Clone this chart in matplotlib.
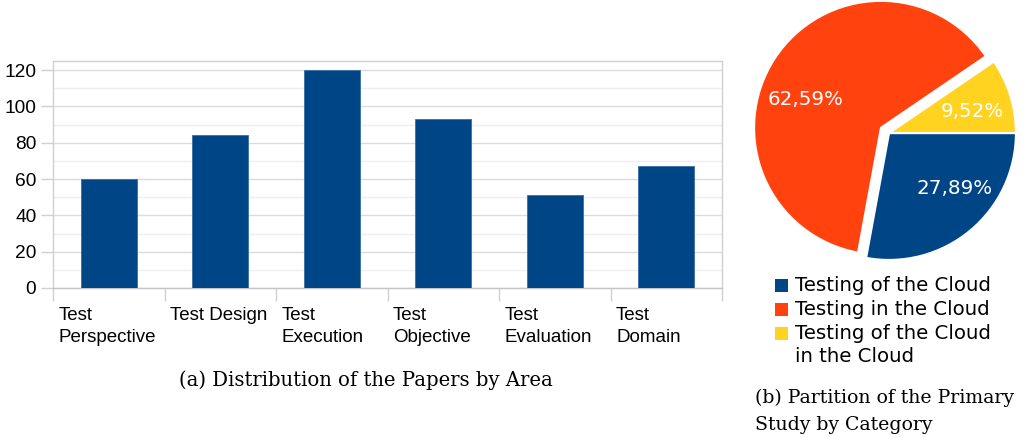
import matplotlib
matplotlib.use("Agg")
import matplotlib.pyplot as plt
from matplotlib.patches import Rectangle

# bar chart data
areas = ["Test\nPerspective", "Test Design", "Test\nExecution",
         "Test\nObjective", "Test\nEvaluation", "Test\nDomain"]
papers = [60, 84, 120, 93, 51, 67]

# pie chart data
categories = ["Testing of the Cloud", "Testing in the Cloud",
              "Testing of the Cloud\nin the Cloud"]
shares = [27.89, 62.59, 9.52]
share_labels = ["27,89%", "62,59%", "9,52%"]
pie_colors = ["#004586", "#ff420e", "#ffd320"]

W, H = 1028, 438
fig = plt.figure(figsize=(W / 100, H / 100), dpi=100)

def px(x0, y0, x1, y1):
    # pixel box (top-left origin) -> figure fraction rect
    return [x0 / W, 1 - y1 / H, (x1 - x0) / W, (y1 - y0) / H]

# ---- (a) bar chart ----
ax = fig.add_axes(px(53, 61, 722, 288))
x = list(range(len(areas)))
ax.bar(x, papers, width=0.5, color="#004586", edgecolor="#3a6ea5",
       linewidth=0.6, zorder=3)
ax.set_xlim(-0.5, len(areas) - 0.5)
ax.set_ylim(0, 125)
ax.set_yticks([0, 20, 40, 60, 80, 100, 120])
ax.set_yticks([10, 30, 50, 70, 90, 110], minor=True)
ax.grid(axis="y", which="major", color="#dcdcdc", linewidth=1.0, zorder=0)
ax.grid(axis="y", which="minor", color="#efefef", linewidth=1.0, zorder=0)
for s in ax.spines.values():
    s.set_color("#d0d0d0")
    s.set_linewidth(1.0)
ax.spines["bottom"].set_color("#c4c4c4")
ax.tick_params(axis="y", which="major", length=9, color="#d0d0d0", width=1.0,
               pad=3, labelsize=13.8, labelfontfamily="Liberation Sans")
ax.tick_params(axis="y", which="minor", length=0)

# category boundaries as tick marks, labels left-aligned inside each slot
ax.set_xticks([i - 0.5 for i in range(len(areas) + 1)], minor=True)
ax.set_xticks([i - 0.45 for i in x])
ax.set_xticklabels(areas, ha="left", va="top", fontsize=13.5,
                   fontfamily="Liberation Sans", linespacing=1.35)
ax.tick_params(axis="x", which="major", length=0, pad=14)
ax.tick_params(axis="x", which="minor", length=9, color="#d0d0d0", width=1.0)

fig.text(366 / W, 1 - 380 / H, "(a) Distribution of the Papers by Area",
         ha="center", va="center", fontsize=14.1, fontfamily="DejaVu Serif")

# ---- (b) pie chart ----
cx, cy, r = 889, 133, 127
pa = fig.add_axes(px(cx - 1.1 * r, cy - 1.1 * r, cx + 1.1 * r, cy + 1.1 * r))
wedges, _ = pa.pie(shares, colors=pie_colors, startangle=0, counterclock=False,
                   explode=[0, 0.075, 0], radius=1.0,
                   wedgeprops=dict(edgecolor="white", linewidth=1.6))
for w in wedges:
    w.set_clip_on(False)
pa.set_xlim(-1.1, 1.1)
pa.set_ylim(-1.1, 1.1)
pa.set_aspect("equal")
pa.axis("off")

label_pos = [(0.52, -0.44), (-0.654, 0.26), (0.66, 0.173)]
for (lx, ly), txt in zip(label_pos, share_labels):
    pa.text(lx, ly, txt, ha="center", va="center", color="white",
            fontsize=14.3, fontfamily="DejaVu Sans")

# legend
row_y = [285, 309, 333]
for yc, lab, col in zip(row_y, categories, pie_colors):
    fig.add_artist(Rectangle((775 / W, 1 - (yc + 6.5) / H), 13 / W, 13 / H,
                             facecolor=col, edgecolor="none",
                             transform=fig.transFigure))
    fig.text(795 / W, 1 - (yc - 9) / H, lab, ha="left", va="top",
             fontsize=14.2, fontfamily="DejaVu Sans", linespacing=1.26)

fig.text(755 / W, 1 - 389 / H, "(b) Partition of the Primary\nStudy by Category",
         ha="left", va="top", fontsize=13.6, fontfamily="DejaVu Serif",
         linespacing=1.6)

fig.savefig("out.png", dpi=100)
